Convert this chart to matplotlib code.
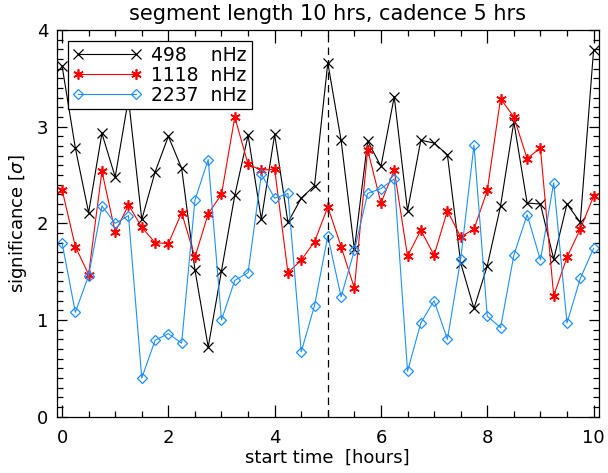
import matplotlib
matplotlib.use("Agg")
import matplotlib.pyplot as plt
import numpy as np
from matplotlib.ticker import MultipleLocator

plt.rcParams['font.family'] = ['DejaVu Sans']

start_time = np.arange(41) * 0.25

sig_498 = [3.63, 2.78, 2.11, 2.93, 2.48, 3.29, 2.04, 2.53, 2.90, 2.57,
           1.52, 0.72, 1.51, 2.29, 2.91, 2.04, 2.92, 2.01, 2.26, 2.39,
           3.66, 2.86, 1.73, 2.85, 2.59, 3.31, 2.13, 2.86, 2.83, 2.71,
           1.59, 1.12, 1.56, 2.18, 3.05, 2.21, 2.20, 1.63, 2.20, 2.01,
           3.79]
sig_1118 = [2.35, 1.76, 1.47, 2.54, 1.91, 2.19, 1.96, 1.80, 1.79, 2.11,
            1.65, 2.10, 2.30, 3.10, 2.61, 2.55, 2.56, 1.49, 1.62, 1.81,
            2.17, 1.76, 1.33, 2.76, 2.21, 2.55, 1.66, 1.93, 1.67, 2.13,
            1.86, 1.94, 2.34, 3.29, 3.10, 2.67, 2.78, 1.25, 1.65, 1.94,
            2.28]
sig_2237 = [1.80, 1.08, 1.46, 2.18, 2.00, 2.08, 0.40, 0.79, 0.86, 0.76,
            2.24, 2.66, 1.00, 1.41, 1.49, 2.51, 2.26, 2.31, 0.67, 1.15,
            1.87, 1.24, 1.72, 2.31, 2.36, 2.46, 0.47, 0.97, 1.20, 0.80,
            1.63, 2.81, 1.04, 0.92, 1.67, 2.09, 1.62, 2.42, 0.97, 1.43,
            1.74]

labels = ["498    nHz", "1118  nHz", "2237  nHz"]
title = "segment length 10 hrs, cadence 5 hrs"
xlabel = "start time  [hours]"
ylabel = r"significance [$\sigma$]"
cadence_line = 5

fig = plt.figure(figsize=(6.08, 4.73), dpi=100)
ax = fig.add_axes([0.0933, 0.119, 0.985 - 0.0933, 0.9366 - 0.119])

ax.plot(start_time, sig_498, color='black', lw=0.8, marker='x', ms=7,
        mew=0.9, label=labels[0])
ax.plot(start_time, sig_1118, color='red', lw=0.8, marker=(6, 2, 0), ms=7.5,
        mew=1.2, label=labels[1])
ax.plot(start_time, sig_2237, color='#1E90FF', lw=0.8, marker='D', ms=5.2,
        mfc='none', mew=0.9, label=labels[2])

ax.axvline(cadence_line, color='black', lw=0.9, ls=(0, (6, 4)))

ax.set_xlim(-0.1, 10.1)
ax.set_ylim(0, 4.0)
ax.xaxis.set_major_locator(MultipleLocator(2))
ax.xaxis.set_minor_locator(MultipleLocator(0.5))
ax.yaxis.set_major_locator(MultipleLocator(1))
ax.yaxis.set_minor_locator(MultipleLocator(0.1))
ax.tick_params(which='both', direction='in', top=True, right=True,
               labelsize=13, width=0.9)
ax.tick_params(axis='x', which='major', length=9, pad=9)
ax.tick_params(axis='y', which='major', length=7, pad=6)
ax.tick_params(which='minor', length=4)
for s in ax.spines.values():
    s.set_linewidth(0.9)

ax.set_title(title, fontsize=15, pad=7)
ax.set_xlabel(xlabel, fontsize=13, labelpad=1)
ax.set_ylabel(ylabel, fontsize=13, labelpad=6)

leg = ax.legend(loc='upper left', numpoints=2, handlelength=3.7,
                fontsize=13.5, fancybox=False, framealpha=1,
                edgecolor='black', borderaxespad=0.6, borderpad=0.25,
                labelspacing=0.05, handletextpad=0.5)
leg.get_frame().set_linewidth(0.9)

fig.savefig("out.png", dpi=100)
